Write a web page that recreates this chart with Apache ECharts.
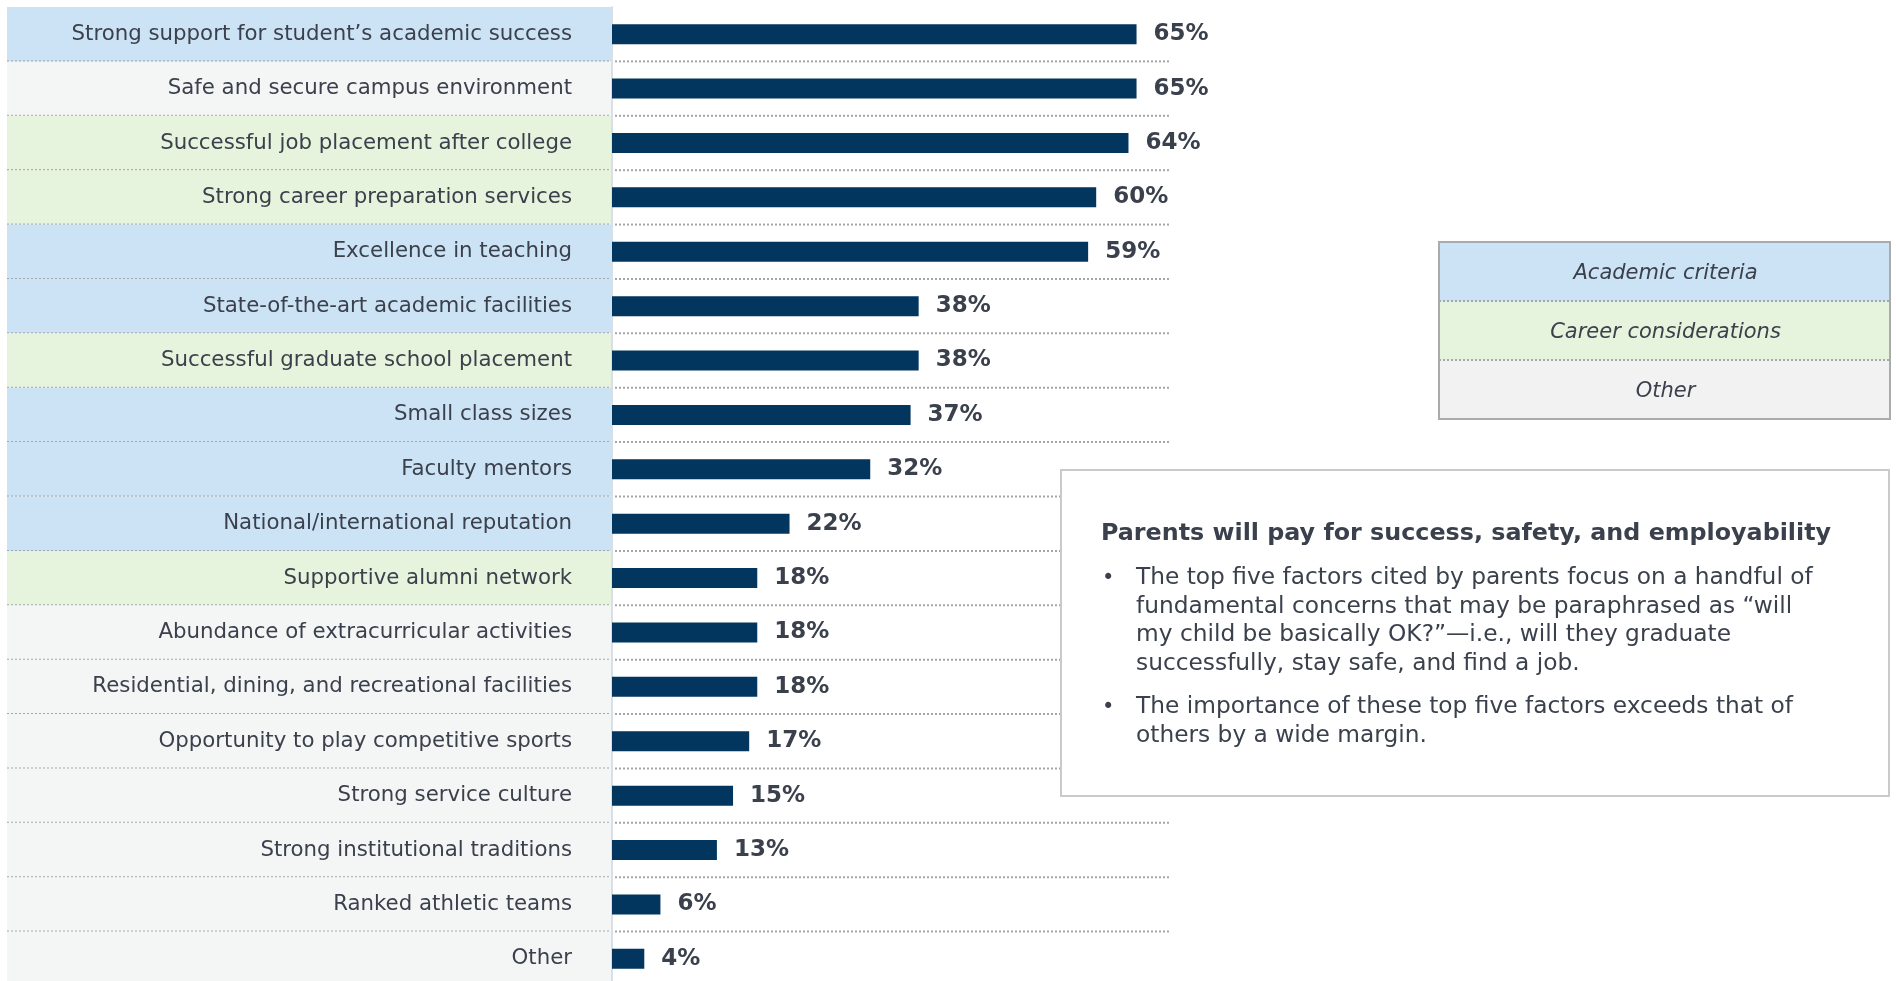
<!DOCTYPE html>
<html>
<head>
<meta charset="utf-8">
<script src="https://cdn.jsdelivr.net/npm/echarts@6/dist/echarts.min.js"></script>
<style>
  html, body { margin: 0; padding: 0; background: #ffffff; }
  #chart { width: 1896px; height: 981px; }
</style>
</head>
<body>
<div id="chart"></div>
<script>
// Factors parents cite when choosing a college (share of respondents, %)
const categories = [
  'Strong support for student\u2019s academic success',
  'Safe and secure campus environment',
  'Successful job placement after college',
  'Strong career preparation services',
  'Excellence in teaching',
  'State-of-the-art academic facilities',
  'Successful graduate school placement',
  'Small class sizes',
  'Faculty mentors',
  'National/international reputation',
  'Supportive alumni network',
  'Abundance of extracurricular activities',
  'Residential, dining, and recreational facilities',
  'Opportunity to play competitive sports',
  'Strong service culture',
  'Strong institutional traditions',
  'Ranked athletic teams',
  'Other'
];
const values = [65, 65, 64, 60, 59, 38, 38, 37, 32, 22, 18, 18, 18, 17, 15, 13, 6, 4];
const groups = [
  'academic', 'other', 'career', 'career', 'academic', 'academic', 'career',
  'academic', 'academic', 'academic', 'career',
  'other', 'other', 'other', 'other', 'other', 'other', 'other'
];
const legendItems = ['Academic criteria', 'Career considerations', 'Other'];
const legendKeys = ['academic', 'career', 'other'];
const calloutTitle = 'Parents will pay for success, safety, and employability';
const calloutBullets = [
  'The top five factors cited by parents focus on a handful of\nfundamental concerns that may be paraphrased as \u201cwill\nmy child be basically OK?\u201d\u2014i.e., will they graduate\nsuccessfully, stay safe, and find a job.',
  'The importance of these top five factors exceeds that of\nothers by a wide margin.'
];

const groupFill = { academic: '#cce3f5', career: '#e7f4dd', other: '#f4f6f6' };
const legendFill = { academic: '#cce3f5', career: '#e7f4dd', other: '#f2f2f2' };
const textColor = '#3b414c';
const FONT = '"DejaVu Sans", Verdana, sans-serif';
const PANEL_LEFT = 7;       // left edge of the category panels
const RULE_RIGHT = 1170;    // right end of the dotted row rules

const chart = echarts.init(document.getElementById('chart'));

const bgData = categories.map((c, i) => [0, i]);

const option = {
  animation: false,
  backgroundColor: '#ffffff',
  // the last row runs slightly past the bottom edge of the canvas
  grid: { left: 612, top: 7, width: 807, height: 979, containLabel: false, outerBoundsMode: 'none' },
  xAxis: { type: 'value', min: 0, max: 100, show: false },
  yAxis: {
    type: 'category',
    data: categories,
    inverse: true,
    axisTick: { show: false },
    axisLine: { show: true, lineStyle: { color: '#d9dfe5', width: 2 } },
    axisLabel: { margin: 40, color: textColor, fontFamily: FONT, fontSize: 21.3 },
    splitLine: { show: false }
  },
  series: [
    {
      // category panels behind the labels, with dotted rules between rows
      type: 'custom',
      z: -1,
      clip: false,
      silent: true,
      data: bgData,
      renderItem: function (params, api) {
        const idx = api.value(1);
        const c = api.coord([0, idx]);
        const band = api.size([0, 1])[1];
        const top = c[1] - band / 2;
        const children = [{
          type: 'rect',
          shape: { x: PANEL_LEFT, y: top, width: c[0] - PANEL_LEFT, height: band },
          style: { fill: groupFill[groups[idx]] }
        }];
        if (idx < categories.length - 1) {
          children.push({
            type: 'line',
            shape: { x1: PANEL_LEFT, y1: top + band, x2: RULE_RIGHT, y2: top + band },
            style: { stroke: '#a3a6aa', lineWidth: 2, lineDash: [2, 2] }
          });
        }
        return { type: 'group', children: children };
      }
    },
    {
      type: 'bar',
      z: 2,
      data: values,
      barWidth: 20,
      itemStyle: { color: '#03365f' },
      label: {
        show: true,
        position: 'right',
        distance: 17,
        formatter: '{c}%',
        color: textColor,
        fontFamily: FONT,
        fontWeight: 'bold',
        fontSize: 23
      }
    }
  ],
  graphic: []
};

// Legend box for the panel colours
const legendBox = { left: 1439, top: 242, width: 451, rowH: 59 };
const legendChildren = [];
legendKeys.forEach((k, i) => {
  legendChildren.push({
    type: 'rect',
    shape: { x: 0, y: i * legendBox.rowH, width: legendBox.width, height: legendBox.rowH },
    style: { fill: legendFill[k] }
  });
  legendChildren.push({
    type: 'text',
    x: legendBox.width / 2 + 1,
    y: i * legendBox.rowH + legendBox.rowH / 2 + 2,
    style: {
      text: legendItems[i],
      fill: textColor,
      font: 'italic 21px ' + FONT,
      align: 'center',
      verticalAlign: 'middle'
    }
  });
  if (i > 0) {
    legendChildren.push({
      type: 'line',
      shape: { x1: 0, y1: i * legendBox.rowH, x2: legendBox.width, y2: i * legendBox.rowH },
      style: { stroke: '#a3a6aa', lineWidth: 2, lineDash: [2, 2] }
    });
  }
});
legendChildren.push({
  type: 'rect',
  shape: { x: 0, y: 0, width: legendBox.width, height: legendBox.rowH * 3 },
  style: { fill: null, stroke: '#a9abad', lineWidth: 2 }
});
option.graphic.push({
  type: 'group', x: legendBox.left, y: legendBox.top, z: 10, children: legendChildren
});

// Callout box with the key takeaway
const callout = { left: 1061, top: 470, width: 828, height: 326 };
const calloutChildren = [
  {
    type: 'rect',
    shape: { x: 0, y: 0, width: callout.width, height: callout.height },
    style: { fill: '#ffffff', stroke: '#c8cacc', lineWidth: 2 }
  },
  {
    type: 'text',
    x: 40, y: 64,
    style: {
      text: calloutTitle, fill: textColor,
      font: 'bold 23.8px ' + FONT, verticalAlign: 'middle'
    }
  }
];
const bulletTops = [94, 223];
calloutBullets.forEach((b, i) => {
  calloutChildren.push({
    type: 'text', x: 41, y: bulletTops[i],
    style: { text: '\u2022', fill: textColor, font: '21px ' + FONT, verticalAlign: 'top', lineHeight: 28.5 }
  });
  calloutChildren.push({
    type: 'text', x: 75, y: bulletTops[i],
    style: { text: b, fill: textColor, font: '23.3px ' + FONT, verticalAlign: 'top', lineHeight: 28.5 }
  });
});
option.graphic.push({
  type: 'group', x: callout.left, y: callout.top, z: 10, children: calloutChildren
});

chart.setOption(option);
</script>
</body>
</html>
